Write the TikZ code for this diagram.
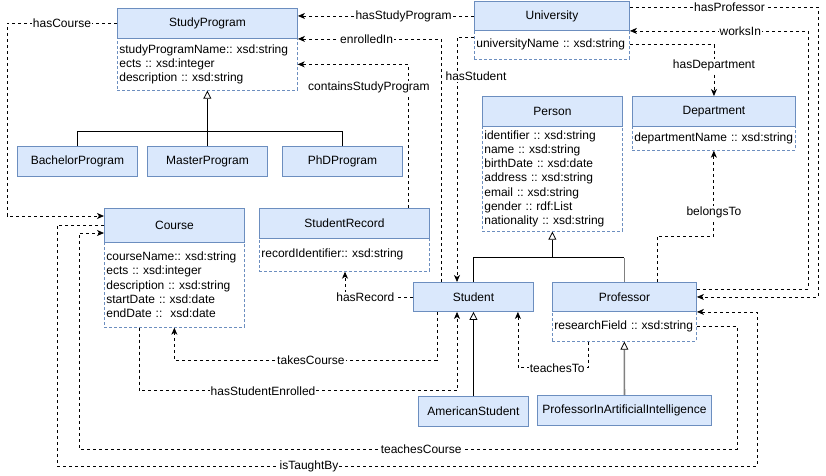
\documentclass[tikz,border=0pt]{standalone}
\usepackage{fontspec}
\setmainfont{Liberation Sans}
\usetikzlibrary{arrows.meta}
\usetikzlibrary{calc}
\usepackage{xcolor}
\definecolor{clsfill}{HTML}{DAE8FC}
\definecolor{clsdraw}{HTML}{6C8EBF}

\begin{document}
\frenchspacing
\begin{tikzpicture}[x=1pt,y=-1pt,
    font=\fontsize{12pt}{14.3pt}\selectfont\frenchspacing,
    cls/.style={draw=clsdraw, fill=clsfill, anchor=north west, inner sep=0pt, line width=0.9pt},
    attr/.style={draw=clsdraw, dash pattern=on 3pt off 2pt, anchor=north west, align=left, inner xsep=2pt, inner ysep=0pt, line width=0.7pt},
    rel/.style={dash pattern=on 3pt off 3pt, line width=0.8pt, -{Stealth[length=7pt,width=6pt,inset=2pt]}},
    inh/.style={line width=0.8pt, -{Triangle[open,length=8pt,width=8pt]}},
    gry/.style={draw=black!50, line width=1.6pt},
    lbl/.style={fill=white, inner sep=1pt}]
      \useasboundingbox (0,0) rectangle (826,475);

      % Classes
      \node[cls, minimum width=180pt, minimum height=30pt] (sp) at (117,8) {StudyProgram};
      \node[attr, text width=176pt, minimum height=52pt] (spA) at (117,38) {studyProgramName:: xsd:string\\ects :: xsd:integer\\description :: xsd:string};
      \node[cls, minimum width=120pt, minimum height=30pt] (bach) at (17,146) {BachelorProgram};
      \node[cls, minimum width=120pt, minimum height=30pt] (mast) at (147,146) {MasterProgram};
      \node[cls, minimum width=120pt, minimum height=30pt] (phd) at (282,146) {PhDProgram};

      \node[cls, minimum width=155pt, minimum height=29pt] (uni) at (474,1) {University};
      \node[attr, text width=151pt, minimum height=29pt] (uniA) at (474,30) {universityName :: xsd:string};

      \node[cls, minimum width=140pt, minimum height=30pt] (person) at (482,96) {Person};
      \node[attr, text width=136pt, minimum height=105pt] (personA) at (482,126) {identifier :: xsd:string\\name :: xsd:string\\birthDate :: xsd:date\\address :: xsd:string\\email :: xsd:string\\gender :: rdf:List\\nationality :: xsd:string};
      \node[cls, minimum width=163pt, minimum height=30pt] (dept) at (632,96) {Department};
      \node[attr, text width=159pt, minimum height=24pt] (deptA) at (632,126) {departmentName :: xsd:string};

      \node[cls, minimum width=140pt, minimum height=34pt] (course) at (104,208) {Course};
      \node[attr, text width=136pt, minimum height=85pt] (courseA) at (104,242) {courseName:: xsd:string\\ects :: xsd:integer\\description :: xsd:string\\startDate :: xsd:date\\endDate :: \ xsd:date};
      \node[cls, minimum width=170pt, minimum height=30pt] (rec) at (259,208) {StudentRecord};
      \node[attr, text width=166pt, minimum height=33pt] (recA) at (259,238) {recordIdentifier:: xsd:string};

      \node[cls, minimum width=120pt, minimum height=29pt] (student) at (413,282) {Student};
      \node[cls, minimum width=144pt, minimum height=29pt] (prof) at (552,282) {Professor};
      \node[attr, text width=140pt, minimum height=30pt] (profA) at (552,311) {researchField :: xsd:string};
      \node[cls, minimum width=110pt, minimum height=30pt] (amer) at (418,396) {AmericanStudent};
      \node[cls, minimum width=174pt, minimum height=30pt] (pai) at (537,395) {ProfessorInArtificialIntelligence};

      % Inheritance
      \coordinate (spJ) at ($(spA.south)+(0,41)$);
      \foreach \n in {bach,mast,phd}
      {
        \draw[line width=0.8pt] (\n.north) |- (spJ);
      }
      \draw[inh] (spJ) -- (spA.south);
      \coordinate (pJ) at ($(personA.south)+(0,26)$);
      \draw[line width=0.8pt] (student.north) |- (pJ -| prof.north);
      \draw[gry] (prof.north) -- (pJ -| prof.north);
      \draw[inh] (pJ) -- (personA.south);
      \draw[inh] (amer.north) -- (student.south);
      \draw[gry, -{Triangle[open,length=8pt,width=8pt,color=black,line width=0.8pt]}] (pai.north) -- (profA.south);

      % Relations
      \draw[rel] (sp.west) -- node[lbl]{hasCourse} ++(-110,0) |- ($(course.north west)+(0,8)$);
      \draw[rel] (uni.west) -- node[lbl, pos=0.4]{hasStudyProgram} (uni.west -| sp.east);
      \draw[rel] ($(student.north west)+(28,0)$) |- node[lbl, pos=0.76]{enrolledIn} (sp.south east);
      \draw[rel] ($(uniA.north west)+(0,7)$) -| node[lbl, pos=0.58, xshift=19pt]{hasStudent} ($(student.north west)+(44,0)$);
      \draw[rel] ($(rec.north east)+(-22,0)$) |- node[lbl, pos=0.42, xshift=-39pt]{containsStudyProgram} (spA.east);
      \draw[rel] (uniA.east) -| node[lbl, pos=0.7]{hasDepartment} (dept.north);
      \draw[rel] ($(prof.north west)+(105,0)$) -- ++(0,-46) -| node[lbl, pos=0.64]{belongsTo} (deptA.south);
      \draw[rel] ($(uni.north east)+(0,6)$) -- node[lbl, pos=0.53]{hasProfessor} ++(188,0) |- (prof.east);
      \draw[rel] ($(prof.north east)+(0,7)$) -- ++(111,0) |- node[lbl, pos=0.69]{worksIn} (uni.south east);
      \draw[rel] (student.west) -| node[lbl, pos=0.35]{hasRecord} ($(recA.south west)+(86,0)$);
      \draw[rel] ($(student.south west)+(24,0)$) -- ++(0,48) -| node[lbl, pos=0.24]{takesCourse} (courseA.south);
      \draw[rel] ($(courseA.south west)+(35,0)$) -- ++(0,63) -| node[lbl, pos=0.195]{hasStudentEnrolled} ($(student.south west)+(44,0)$);
      \draw[rel] ($(profA.south west)+(36,0)$) -- ++(0,26) -| node[lbl, pos=0.22]{teachesTo} ($(student.south east)+(-16,0)$);

      \coordinate (tcA) at (737,449);
      \coordinate (tcB) at (79,449);
      \draw[rel] (profA.east) -| (tcA) -- node[lbl, pos=0.48]{teachesCourse} (tcB) |- ($(course.north west)+(0,25)$);
      \coordinate (itA) at (57,466);
      \coordinate (itB) at (757,466);
      \draw[rel] (course.west) -| (itA) -- node[lbl, pos=0.36]{isTaughtBy} (itB) |- (prof.south east);
\end{tikzpicture}
\end{document}
